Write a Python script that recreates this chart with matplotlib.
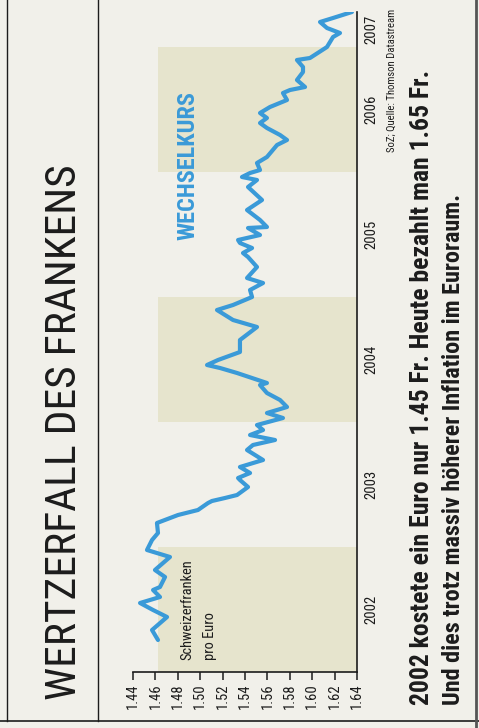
import matplotlib
matplotlib.use('Agg')
import matplotlib.pyplot as plt
from matplotlib import font_manager
from matplotlib.lines import Line2D
from matplotlib.transforms import blended_transform_factory


# EUR/CHF (time as decimal year)
dates = [2002.256, 2002.336, 2002.44, 2002.496, 2002.552, 2002.60, 2002.656,
         2002.68, 2002.76, 2002.816, 2002.92, 2002.976, 2003.056, 2003.112,
         2003.192, 2003.256, 2003.296, 2003.352, 2003.368, 2003.392, 2003.416,
         2003.48, 2003.536, 2003.552, 2003.592, 2003.64, 2003.696, 2003.776,
         2003.816, 2003.856, 2003.896, 2003.936, 2003.976, 2004.032, 2004.072,
         2004.12, 2004.176, 2004.232, 2004.296, 2004.312, 2004.392, 2004.432,
         2004.456, 2004.496, 2004.56, 2004.656, 2004.76, 2004.816, 2004.896,
         2004.936, 2005.0, 2005.056, 2005.112, 2005.152, 2005.24, 2005.32,
         2005.352, 2005.392, 2005.432, 2005.456, 2005.496, 2005.552, 2005.56,
         2005.616, 2005.696, 2005.776, 2005.88, 2005.936, 2005.96, 2005.992,
         2006.016, 2006.072, 2006.12, 2006.216, 2006.256, 2006.296, 2006.352,
         2006.392, 2006.432, 2006.472, 2006.52, 2006.576, 2006.632, 2006.656,
         2006.68, 2006.736, 2006.80, 2006.84, 2006.896, 2006.912, 2007.0,
         2007.08, 2007.112, 2007.152, 2007.20, 2007.232, 2007.28]
rate = [1.4623, 1.4570, 1.4704, 1.4579, 1.4463, 1.4641, 1.4579,
        1.4641, 1.4686, 1.4596, 1.4730, 1.4525, 1.4570, 1.4623,
        1.4614, 1.4802, 1.4980, 1.5070, 1.5105, 1.5221, 1.5329,
        1.5427, 1.5355, 1.5338, 1.5445, 1.5355, 1.5561, 1.5418,
        1.5471, 1.5668, 1.5445, 1.5561, 1.5507, 1.5739, 1.5596,
        1.5775, 1.5713, 1.5596, 1.5534, 1.5596, 1.5329, 1.5177,
        1.5061, 1.5159, 1.5355, 1.5355, 1.5507, 1.5293, 1.5150,
        1.5293, 1.5463, 1.5445, 1.5561, 1.5418, 1.5507, 1.5427,
        1.5382, 1.5463, 1.5355, 1.5338, 1.5534, 1.5427, 1.5596,
        1.5534, 1.5418, 1.5552, 1.5427, 1.5507, 1.5373, 1.5445,
        1.5534, 1.5507, 1.5596, 1.5686, 1.5775, 1.5713, 1.5596,
        1.5534, 1.5596, 1.5534, 1.5623, 1.5775, 1.5739, 1.5802,
        1.5936, 1.5864, 1.5918, 1.5918, 1.5864, 1.5980, 1.6132,
        1.6186, 1.6248, 1.6132, 1.6070, 1.6186, 1.6355]

value_ticks = [1.44, 1.46, 1.48, 1.50, 1.52, 1.54, 1.56, 1.58, 1.60, 1.62, 1.64]
years = [2002, 2003, 2004, 2005, 2006, 2007]
shaded_years = [2002, 2004, 2006]
t_end = 2007.28
band_from = 1.462

title = 'WERTZERFALL DES FRANKENS'
series_label = 'WECHSELKURS'
unit_line1 = 'Schweizerfranken'
unit_line2 = 'pro Euro'
source = 'SoZ; Quelle: Thomson Datastream'
caption1 = '2002 kostete ein Euro nur 1.45 Fr. Heute bezahlt man 1.65 Fr.'
caption2 = 'Und dies trotz massiv höherer Inflation im Euroraum.'

PAPER = '#f1f0ea'
BAND = '#e6e4cd'
LINE = '#3a9ad8'
INK = '#1c1c1c'

installed = {f.name for f in font_manager.fontManager.ttflist}


def pick_font(*names):
    for n in names:
        if n in installed:
            return n
    return 'DejaVu Sans'


NARROW = pick_font('Liberation Sans Narrow', 'Roboto Condensed', 'DejaVu Sans')

W, H = 479, 728


def fx(px):
    return px / W


def fy(py):
    return 1 - py / H


fig = plt.figure(figsize=(W / 100, H / 100), dpi=100, facecolor=PAPER)
renderer = fig.canvas.get_renderer()


# rotated text scaled so that it covers the given length in pixels
def vtext(x, y, s, length, va='center', **kw):
    t = fig.text(fx(x), fy(y), s, rotation=90, ha='center', va=va,
                 family=NARROW, fontstretch='condensed', fontsize=10, **kw)
    bb = t.get_window_extent(renderer)
    t.set_fontsize(10 * length / bb.height)
    return t


ax = fig.add_axes([fx(133), fy(672), (357 - 133) / W, (672 - 12) / H])
ax.set_facecolor('none')

for yr in shaded_years:
    ax.axhspan(yr, yr + 1, xmin=(band_from - 1.44) / 0.2, xmax=1,
               color=BAND, lw=0, zorder=0)

ax.plot(rate, dates, color=LINE, lw=3.0, solid_joinstyle='round',
        solid_capstyle='round', zorder=3)

ax.set_xlim(1.44, 1.64)
ax.set_ylim(2002, t_end)
for side in ['left', 'top']:
    ax.spines[side].set_visible(False)
for side in ['bottom', 'right']:
    ax.spines[side].set_linewidth(1.2)
    ax.spines[side].set_color(INK)

ax.set_xticks(value_ticks)
ax.set_xticklabels([f'{v:.2f}' for v in value_ticks], rotation=90,
                   family=NARROW, fontstretch='condensed', fontsize=10.5, color=INK)
ax.tick_params(axis='x', direction='out', length=6, width=1.1, pad=2, color=INK)
ax.set_yticks([])

ytrans = blended_transform_factory(ax.transAxes, ax.transData)
centers = [y + 0.5 for y in years[:-1]] + [(years[-1] + t_end) / 2]
for yr, c in zip(years, centers):
    ax.text(1 + 14 / 224, c, str(yr), transform=ytrans, rotation=90,
            ha='center', va='center', family=NARROW, fontstretch='condensed',
            fontsize=10.5, color=INK)

# texts
vtext(65, 432, title, 535, color=INK)
vtext(188, 240, series_label, 148, va='bottom', color=LINE, weight='bold')
vtext(187, 660, unit_line1, 100, va='bottom', color=INK)
vtext(210, 660, unit_line2, 48, va='bottom', color=INK)
vtext(392, 152, source, 142, va='bottom', color=INK)
vtext(422, 705, caption1, 635, va='bottom', color=INK, weight='bold')
vtext(453, 705, caption2, 510, va='bottom', color=INK, weight='bold')

# frame lines of the clipping
for x in [7, 98]:
    fig.add_artist(Line2D([fx(x), fx(x)], [fy(0), fy(721)], color=INK, lw=1.0))
fig.add_artist(Line2D([fx(0), fx(479)], [fy(721), fy(721)], color=INK, lw=1.2))
fig.add_artist(Line2D([fx(476), fx(476)], [0, 1], color='#555555', lw=2.0))

fig.savefig('out.png', dpi=100, facecolor=PAPER)
